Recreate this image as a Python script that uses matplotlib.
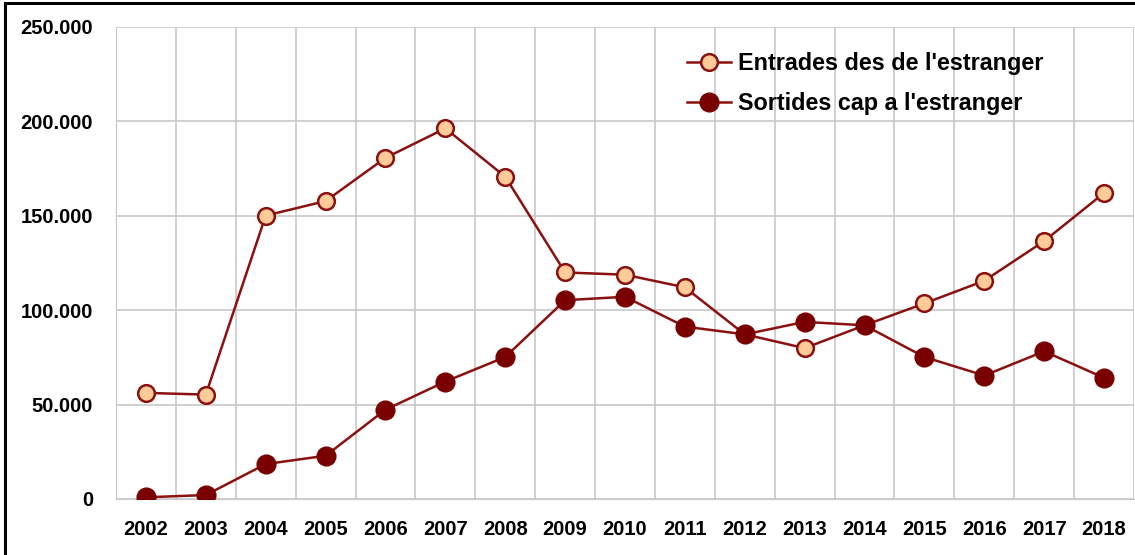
import matplotlib.pyplot as plt
from matplotlib.patches import Rectangle
from matplotlib.ticker import FuncFormatter, MultipleLocator
from matplotlib import font_manager

years = ['2002', '2003', '2004', '2005', '2006', '2007', '2008', '2009', '2010',
         '2011', '2012', '2013', '2014', '2015', '2016', '2017', '2018']
entrades = [56200, 55300, 150100, 157800, 180700, 196300, 170700, 120000, 118800,
            112100, 87200, 79900, 92000, 103600, 115600, 136600, 162100]
sortides = [900, 2100, 18500, 22900, 47300, 62200, 75200, 105300, 107100,
            91300, 87200, 93800, 92000, 75200, 65400, 78200, 64200]
labels = ["Entrades des de l'estranger", "Sortides cap a l'estranger"]

installed = {f.name for f in font_manager.fontManager.ttflist}
family = 'Liberation Sans Narrow' if 'Liberation Sans Narrow' in installed else 'Liberation Sans'
narrow = family == 'Liberation Sans Narrow'
tick_fs = 17 if narrow else 14.5
leg_fs = 19 if narrow else 16.8
plt.rcParams['font.family'] = [family, 'DejaVu Sans']
plt.rcParams['font.weight'] = 'bold'

W, H = 1135, 555
fig = plt.figure(figsize=(W / 100, H / 100), dpi=100)
fig.patch.set_facecolor('white')
ax = fig.add_axes([116 / W, 1 - 499 / H, (1134 - 116) / W, (499 - 27) / H])

x = list(range(len(years)))
line_col = '#8B1010'
ax.plot(x, entrades, color=line_col, lw=1.8, marker='o', markersize=12,
        markerfacecolor='#FFCC99', markeredgecolor=line_col, markeredgewidth=1.8,
        label=labels[0], zorder=3)
ax.plot(x, sortides, color=line_col, lw=1.8, marker='o', markersize=13.5,
        markerfacecolor='#7A0000', markeredgecolor='#7A0000',
        label=labels[1], zorder=3)

ax.set_xlim(-0.5, len(years) - 0.5)
ax.set_ylim(0, 250000)
ax.set_xticks(x)
ax.set_xticklabels(years)
ax.set_xticks([i - 0.5 for i in range(len(years) + 1)], minor=True)
ax.yaxis.set_major_locator(MultipleLocator(50000))
ax.yaxis.set_major_formatter(FuncFormatter(lambda v, p: f'{int(v):,}'.replace(',', '.')))

ax.grid(True, which='minor', axis='x', color='#C8C8C8', lw=1.2)
ax.grid(True, which='major', axis='y', color='#C8C8C8', lw=1.2)
ax.set_axisbelow(True)
for s in ax.spines.values():
    s.set_visible(False)
ax.spines['bottom'].set_visible(True)
ax.spines['bottom'].set_color('#C8C8C8')
ax.spines['left'].set_visible(True)
ax.spines['left'].set_color('#C8C8C8')
ax.tick_params(axis='both', which='both', length=0, labelsize=tick_fs, colors='black')
ax.tick_params(axis='y', pad=16.5)
ax.tick_params(axis='x', pad=15)

leg = ax.legend(loc='upper left', bbox_to_anchor=(0.549, 0.971), frameon=False,
                borderpad=0, fontsize=leg_fs, handlelength=1.9, handletextpad=0.3,
                labelspacing=0.71)
for t in leg.get_texts():
    t.set_fontweight('bold')

fig.add_artist(Rectangle((5 / W, -0.05), 1.2, 1 - 3 / H + 0.05, transform=fig.transFigure,
                         fill=False, edgecolor='black', lw=2.2))

fig.savefig('out.png', dpi=100, facecolor='white')
